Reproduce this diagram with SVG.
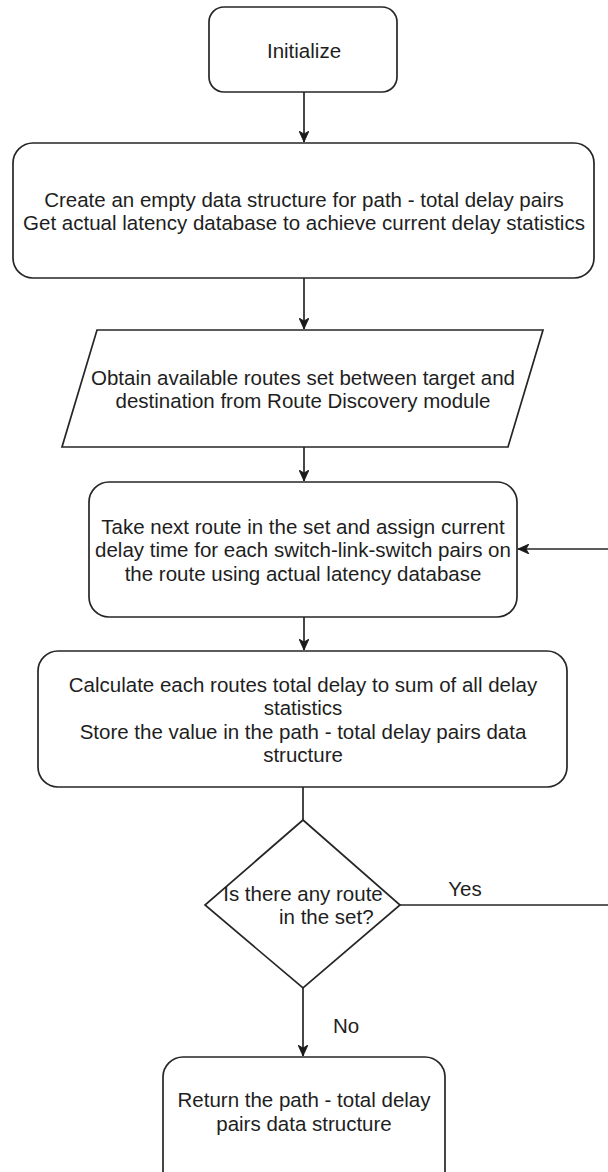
<svg xmlns="http://www.w3.org/2000/svg" width="608" height="1172" viewBox="0 0 608 1172">
  <defs>
    <style>
      .shape { fill: #ffffff; stroke: #262626; stroke-width: 1.7; }
      .edge { fill: none; stroke: #262626; stroke-width: 1.7; }
      .label { font-family: "Liberation Sans", Arial, Helvetica, sans-serif; font-size: 20.5px; fill: #1e1e1e; text-anchor: middle; }
      .left { text-anchor: start; }
    </style>
    <!-- classic notched arrowhead, tip at the path end -->
    <marker id="arrow" viewBox="0 0 12 10" markerWidth="12" markerHeight="10" refX="11" refY="5" orient="auto" markerUnits="userSpaceOnUse">
      <path d="M0,0 L11,5 L0,10 L3,5 Z" fill="#1a1a1a" stroke="#1a1a1a" stroke-width="0.8" stroke-linejoin="miter"/>
    </marker>
  </defs>

  <rect width="608" height="1172" fill="#ffffff"/>

  <!-- connectors -->
  <g id="connectors">
    <line class="edge" x1="304" y1="92" x2="304" y2="142" marker-end="url(#arrow)"/>
    <line class="edge" x1="304" y1="278" x2="304" y2="329" marker-end="url(#arrow)"/>
    <line class="edge" x1="304" y1="447" x2="304" y2="481" marker-end="url(#arrow)"/>
    <line class="edge" x1="304" y1="617" x2="304" y2="650" marker-end="url(#arrow)"/>
    <line class="edge" x1="303" y1="787" x2="303" y2="820"/>
    <line class="edge" x1="303" y1="988" x2="303" y2="1056" marker-end="url(#arrow)"/>
    <!-- loop back: Yes branch leaves to the right and re-enters the route step -->
    <line class="edge" x1="400" y1="905" x2="610" y2="905"/>
    <line class="edge" x1="610" y1="549" x2="518" y2="549" marker-end="url(#arrow)"/>
    <text class="label" x="465" y="896">Yes</text>
    <text class="label" x="346" y="1033">No</text>
  </g>

  <g id="initialize">
    <rect class="shape" x="209" y="7" width="188" height="85" rx="15" ry="15"/>
    <text class="label" x="304" y="58">Initialize</text>
  </g>

  <g id="create-structure">
    <rect class="shape" x="13" y="143" width="581" height="135" rx="20" ry="20"/>
    <text class="label" x="304" y="206.5">Create an empty data structure for path - total delay pairs</text>
    <text class="label" x="304" y="230">Get actual latency database to achieve current delay statistics</text>
  </g>

  <g id="obtain-routes">
    <polygon class="shape" points="97,330 543,330 508,447 62,447"/>
    <text class="label" x="303" y="384.5">Obtain available routes set between target and</text>
    <text class="label" x="303" y="408">destination from Route Discovery module</text>
  </g>

  <g id="take-next-route">
    <rect class="shape" x="89" y="482" width="428" height="135" rx="20" ry="20"/>
    <text class="label" x="303" y="533.5">Take next route in the set and assign current</text>
    <text class="label" x="303" y="557">delay time for each switch-link-switch pairs on</text>
    <text class="label" x="303" y="580.5">the route using actual latency database</text>
  </g>

  <g id="calculate-total">
    <rect class="shape" x="38" y="651" width="529" height="136" rx="20" ry="20"/>
    <text class="label" x="303" y="691.5">Calculate each routes total delay to sum of all delay</text>
    <text class="label" x="303" y="715">statistics</text>
    <text class="label" x="303" y="738.5">Store the value in the path - total delay pairs data</text>
    <text class="label" x="303" y="762">structure</text>
  </g>

  <g id="any-route-decision">
    <polygon class="shape" points="303,820 400,905 303,988 205,905"/>
    <text class="label" x="303" y="901">Is there any route</text>
    <text class="label left" x="279" y="924">in the set?</text>
  </g>

  <g id="return-result">
    <rect class="shape" x="163" y="1057" width="282" height="135" rx="20" ry="20"/>
    <text class="label" x="304" y="1107">Return the path - total delay</text>
    <text class="label" x="304" y="1130.5">pairs data structure</text>
  </g>
</svg>
